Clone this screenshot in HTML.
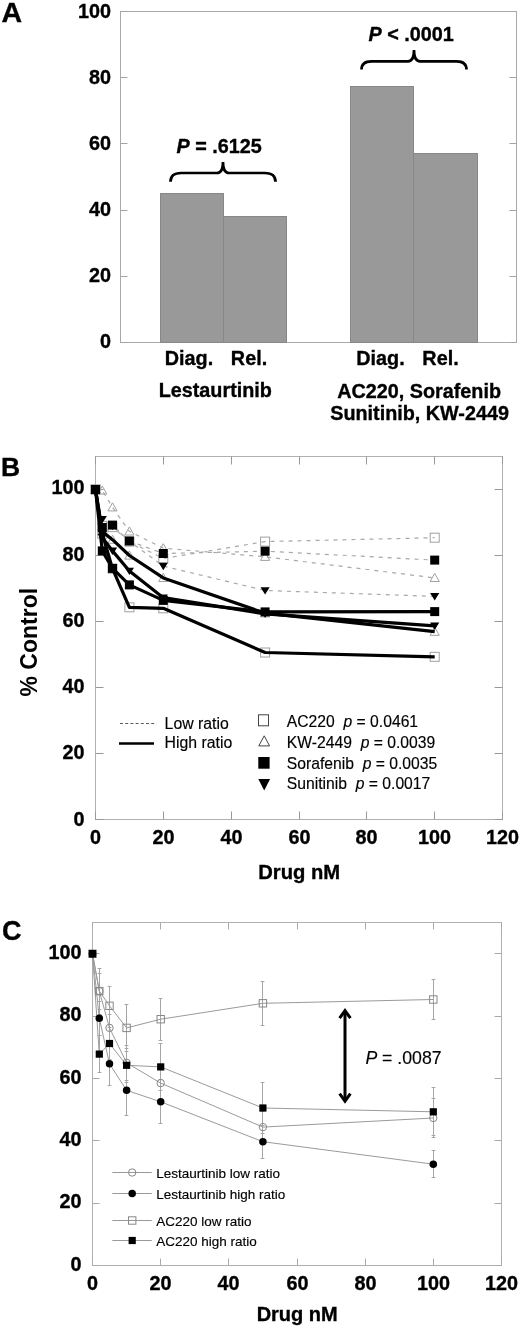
<!DOCTYPE html>
<html><head><meta charset="utf-8"><style>
html,body{margin:0;padding:0;background:#fff;}
svg{display:block;font-family:"Liberation Sans", sans-serif;will-change:transform;}
</style></head><body>
<svg width="520" height="1328" viewBox="0 0 520 1328">
<rect width="520" height="1328" fill="#fff"/>
<rect x="120.5" y="11.5" width="396.0" height="331.0" fill="none" stroke="#aaaaaa" stroke-width="1"/>
<line x1="120.5" y1="342.5" x2="127.5" y2="342.5" stroke="#a4a4a4"/>
<line x1="516.5" y1="342.5" x2="509.5" y2="342.5" stroke="#a4a4a4"/>
<text x="110.9" y="347.90" font-size="19.8" text-anchor="end" font-weight="bold" fill="#000" stroke="#000" stroke-width="0.35" >0</text>
<line x1="120.5" y1="276.5" x2="127.5" y2="276.5" stroke="#a4a4a4"/>
<line x1="516.5" y1="276.5" x2="509.5" y2="276.5" stroke="#a4a4a4"/>
<text x="110.9" y="281.82" font-size="19.8" text-anchor="end" font-weight="bold" fill="#000" stroke="#000" stroke-width="0.35" >20</text>
<line x1="120.5" y1="210.5" x2="127.5" y2="210.5" stroke="#a4a4a4"/>
<line x1="516.5" y1="210.5" x2="509.5" y2="210.5" stroke="#a4a4a4"/>
<text x="110.9" y="215.74" font-size="19.8" text-anchor="end" font-weight="bold" fill="#000" stroke="#000" stroke-width="0.35" >40</text>
<line x1="120.5" y1="143.5" x2="127.5" y2="143.5" stroke="#a4a4a4"/>
<line x1="516.5" y1="143.5" x2="509.5" y2="143.5" stroke="#a4a4a4"/>
<text x="110.9" y="149.66" font-size="19.8" text-anchor="end" font-weight="bold" fill="#000" stroke="#000" stroke-width="0.35" >60</text>
<line x1="120.5" y1="77.5" x2="127.5" y2="77.5" stroke="#a4a4a4"/>
<line x1="516.5" y1="77.5" x2="509.5" y2="77.5" stroke="#a4a4a4"/>
<text x="110.9" y="83.58" font-size="19.8" text-anchor="end" font-weight="bold" fill="#000" stroke="#000" stroke-width="0.35" >80</text>
<line x1="120.5" y1="11.5" x2="127.5" y2="11.5" stroke="#a4a4a4"/>
<line x1="516.5" y1="11.5" x2="509.5" y2="11.5" stroke="#a4a4a4"/>
<text x="110.9" y="17.50" font-size="19.8" text-anchor="end" font-weight="bold" fill="#000" stroke="#000" stroke-width="0.35" >100</text>
<rect x="160.5" y="193.5" width="63.0" height="149.0" fill="#999999" stroke="#888888" stroke-width="1"/>
<rect x="223.5" y="216.5" width="63.0" height="126.0" fill="#999999" stroke="#888888" stroke-width="1"/>
<rect x="350.5" y="86.5" width="63.0" height="256.0" fill="#999999" stroke="#888888" stroke-width="1"/>
<rect x="413.5" y="153.5" width="64.0" height="189.0" fill="#999999" stroke="#888888" stroke-width="1"/>
<text x="189" y="364.50" font-size="19.8" text-anchor="middle" font-weight="bold" fill="#000" stroke="#000" stroke-width="0.35" >Diag.</text>
<text x="249" y="364.50" font-size="19.8" text-anchor="middle" font-weight="bold" fill="#000" stroke="#000" stroke-width="0.35" >Rel.</text>
<text x="380.5" y="364.50" font-size="19.8" text-anchor="middle" font-weight="bold" fill="#000" stroke="#000" stroke-width="0.35" >Diag.</text>
<text x="440.5" y="364.50" font-size="19.8" text-anchor="middle" font-weight="bold" fill="#000" stroke="#000" stroke-width="0.35" >Rel.</text>
<text x="215.3" y="397.30" font-size="19.8" text-anchor="middle" font-weight="bold" fill="#000" stroke="#000" stroke-width="0.35" >Lestaurtinib</text>
<text x="419.1" y="397.70" font-size="19.8" text-anchor="middle" font-weight="bold" fill="#000" stroke="#000" stroke-width="0.35" >AC220, Sorafenib</text>
<text x="419.6" y="420.00" font-size="19.8" text-anchor="middle" font-weight="bold" fill="#000" stroke="#000" stroke-width="0.35" >Sunitinib, KW-2449</text>
<text x="219.1" y="153.00" font-size="19.8" text-anchor="middle" font-weight="bold" fill="#000" stroke="#000" stroke-width="0.35" ><tspan font-style="italic">P</tspan> = .6125</text>
<text x="411.1" y="41.20" font-size="19.8" text-anchor="middle" font-weight="bold" fill="#000" stroke="#000" stroke-width="0.35" ><tspan font-style="italic">P</tspan> &lt; .0001</text>
<path d="M170.5,181.8 Q170.5,173 181.06,173 L217.0,173 Q223.0,173 223.0,162.0 Q223.0,173 229.0,173 L264.94,173 Q275.5,173 275.5,181.8" fill="none" stroke="#000" stroke-width="2.7"/>
<path d="M361.5,69.6 Q361.5,61.3 371.46,61.3 L408.0,61.3 Q414.0,61.3 414.0,50.0 Q414.0,61.3 420.0,61.3 L456.54,61.3 Q466.5,61.3 466.5,69.6" fill="none" stroke="#000" stroke-width="2.7"/>
<text x="1.4" y="22.10" font-size="28.5" text-anchor="start" font-weight="bold" fill="#000" stroke="#000" stroke-width="0.35" >A</text>
<rect x="95.5" y="456.5" width="407.0" height="363.0" fill="none" stroke="#b0b0b0" stroke-width="1"/>
<line x1="95.5" y1="819.5" x2="103.5" y2="819.5" stroke="#999999"/>
<line x1="502.5" y1="819.5" x2="494.5" y2="819.5" stroke="#999999"/>
<text x="84.5" y="825.50" font-size="19.8" text-anchor="end" font-weight="bold" fill="#000" stroke="#000" stroke-width="0.35" >0</text>
<line x1="95.5" y1="753.5" x2="103.5" y2="753.5" stroke="#999999"/>
<line x1="502.5" y1="753.5" x2="494.5" y2="753.5" stroke="#999999"/>
<text x="84.5" y="759.26" font-size="19.8" text-anchor="end" font-weight="bold" fill="#000" stroke="#000" stroke-width="0.35" >20</text>
<line x1="95.5" y1="687.5" x2="103.5" y2="687.5" stroke="#999999"/>
<line x1="502.5" y1="687.5" x2="494.5" y2="687.5" stroke="#999999"/>
<text x="84.5" y="693.02" font-size="19.8" text-anchor="end" font-weight="bold" fill="#000" stroke="#000" stroke-width="0.35" >40</text>
<line x1="95.5" y1="621.5" x2="103.5" y2="621.5" stroke="#999999"/>
<line x1="502.5" y1="621.5" x2="494.5" y2="621.5" stroke="#999999"/>
<text x="84.5" y="626.78" font-size="19.8" text-anchor="end" font-weight="bold" fill="#000" stroke="#000" stroke-width="0.35" >60</text>
<line x1="95.5" y1="555.5" x2="103.5" y2="555.5" stroke="#999999"/>
<line x1="502.5" y1="555.5" x2="494.5" y2="555.5" stroke="#999999"/>
<text x="84.5" y="560.54" font-size="19.8" text-anchor="end" font-weight="bold" fill="#000" stroke="#000" stroke-width="0.35" >80</text>
<line x1="95.5" y1="489.5" x2="103.5" y2="489.5" stroke="#999999"/>
<line x1="502.5" y1="489.5" x2="494.5" y2="489.5" stroke="#999999"/>
<text x="84.5" y="494.30" font-size="19.8" text-anchor="end" font-weight="bold" fill="#000" stroke="#000" stroke-width="0.35" >100</text>
<line x1="95.5" y1="819.5" x2="95.5" y2="811.5" stroke="#999999"/>
<line x1="95.5" y1="456.5" x2="95.5" y2="464.5" stroke="#999999"/>
<text x="95.5" y="843.70" font-size="19.8" text-anchor="middle" font-weight="bold" fill="#000" stroke="#000" stroke-width="0.35" >0</text>
<line x1="163.5" y1="819.5" x2="163.5" y2="811.5" stroke="#999999"/>
<line x1="163.5" y1="456.5" x2="163.5" y2="464.5" stroke="#999999"/>
<text x="163.5" y="843.70" font-size="19.8" text-anchor="middle" font-weight="bold" fill="#000" stroke="#000" stroke-width="0.35" >20</text>
<line x1="231.5" y1="819.5" x2="231.5" y2="811.5" stroke="#999999"/>
<line x1="231.5" y1="456.5" x2="231.5" y2="464.5" stroke="#999999"/>
<text x="231.5" y="843.70" font-size="19.8" text-anchor="middle" font-weight="bold" fill="#000" stroke="#000" stroke-width="0.35" >40</text>
<line x1="299.5" y1="819.5" x2="299.5" y2="811.5" stroke="#999999"/>
<line x1="299.5" y1="456.5" x2="299.5" y2="464.5" stroke="#999999"/>
<text x="299.5" y="843.70" font-size="19.8" text-anchor="middle" font-weight="bold" fill="#000" stroke="#000" stroke-width="0.35" >60</text>
<line x1="366.5" y1="819.5" x2="366.5" y2="811.5" stroke="#999999"/>
<line x1="366.5" y1="456.5" x2="366.5" y2="464.5" stroke="#999999"/>
<text x="366.5" y="843.70" font-size="19.8" text-anchor="middle" font-weight="bold" fill="#000" stroke="#000" stroke-width="0.35" >80</text>
<line x1="434.5" y1="819.5" x2="434.5" y2="811.5" stroke="#999999"/>
<line x1="434.5" y1="456.5" x2="434.5" y2="464.5" stroke="#999999"/>
<text x="434.5" y="843.70" font-size="19.8" text-anchor="middle" font-weight="bold" fill="#000" stroke="#000" stroke-width="0.35" >100</text>
<line x1="502.5" y1="819.5" x2="502.5" y2="811.5" stroke="#999999"/>
<line x1="502.5" y1="456.5" x2="502.5" y2="464.5" stroke="#999999"/>
<text x="502.5" y="843.70" font-size="19.8" text-anchor="middle" font-weight="bold" fill="#000" stroke="#000" stroke-width="0.35" >120</text>
<text x="299.2" y="879.00" font-size="20.2" text-anchor="middle" font-weight="bold" fill="#000" stroke="#000" stroke-width="0.35" >Drug nM</text>
<text transform="translate(36.6,642.2) rotate(-90)" font-size="23" text-anchor="middle" font-weight="bold">% Control</text>
<text x="0.9" y="476.00" font-size="26.5" text-anchor="start" font-weight="bold" fill="#000" stroke="#000" stroke-width="0.35" >B</text>
<polyline points="95.5,489.5 102.3,525.8 112.5,527.1 129.4,541.6 163.3,558.5 265.1,541.6 434.7,537.7" fill="none" stroke="#a8a8a8" stroke-width="1.2" stroke-dasharray="4,5"/>
<polyline points="95.5,489.5 102.3,490.5 112.5,507.3 129.4,531.4 163.3,548.2 265.1,556.8 434.7,577.9" fill="none" stroke="#a8a8a8" stroke-width="1.2" stroke-dasharray="4,5"/>
<polyline points="95.5,489.5 102.3,527.5 112.5,525.1 129.4,541.0 163.3,553.5 265.1,551.2 434.7,560.1" fill="none" stroke="#a8a8a8" stroke-width="1.2" stroke-dasharray="4,5"/>
<polyline points="95.5,489.5 102.3,519.2 112.5,525.8 129.4,541.3 163.3,566.1 265.1,590.5 434.7,596.4" fill="none" stroke="#a8a8a8" stroke-width="1.2" stroke-dasharray="4,5"/>
<rect x="91.0" y="485.0" width="9" height="9" fill="none" stroke="#a0a0a0" stroke-width="1"/>
<rect x="97.8" y="521.3" width="9" height="9" fill="none" stroke="#a0a0a0" stroke-width="1"/>
<rect x="108.0" y="522.6" width="9" height="9" fill="none" stroke="#a0a0a0" stroke-width="1"/>
<rect x="124.9" y="537.1" width="9" height="9" fill="none" stroke="#a0a0a0" stroke-width="1"/>
<rect x="158.8" y="554.0" width="9" height="9" fill="none" stroke="#a0a0a0" stroke-width="1"/>
<rect x="260.6" y="537.1" width="9" height="9" fill="none" stroke="#a0a0a0" stroke-width="1"/>
<rect x="430.2" y="533.2" width="9" height="9" fill="none" stroke="#a0a0a0" stroke-width="1"/>
<rect x="91.0" y="485.0" width="9" height="9" fill="none" stroke="#a0a0a0" stroke-width="1"/>
<rect x="97.8" y="529.2" width="9" height="9" fill="none" stroke="#a0a0a0" stroke-width="1"/>
<rect x="108.0" y="564.2" width="9" height="9" fill="none" stroke="#a0a0a0" stroke-width="1"/>
<rect x="124.9" y="602.8" width="9" height="9" fill="none" stroke="#a0a0a0" stroke-width="1"/>
<rect x="158.8" y="603.8" width="9" height="9" fill="none" stroke="#a0a0a0" stroke-width="1"/>
<rect x="260.6" y="648.0" width="9" height="9" fill="none" stroke="#a0a0a0" stroke-width="1"/>
<rect x="430.2" y="652.3" width="9" height="9" fill="none" stroke="#a0a0a0" stroke-width="1"/>
<path d="M95.5,485.0 L100.1,493.1 L90.9,493.1 Z" fill="none" stroke="#a0a0a0" stroke-width="1"/>
<path d="M102.3,486.0 L106.9,494.1 L97.7,494.1 Z" fill="none" stroke="#a0a0a0" stroke-width="1"/>
<path d="M112.5,502.8 L117.1,510.9 L107.9,510.9 Z" fill="none" stroke="#a0a0a0" stroke-width="1"/>
<path d="M129.4,526.9 L134.0,535.0 L124.8,535.0 Z" fill="none" stroke="#a0a0a0" stroke-width="1"/>
<path d="M163.3,543.7 L167.9,551.8 L158.7,551.8 Z" fill="none" stroke="#a0a0a0" stroke-width="1"/>
<path d="M265.1,552.3 L269.7,560.4 L260.5,560.4 Z" fill="none" stroke="#a0a0a0" stroke-width="1"/>
<path d="M434.7,573.4 L439.3,581.5 L430.1,581.5 Z" fill="none" stroke="#a0a0a0" stroke-width="1"/>
<path d="M95.5,485.0 L100.1,493.1 L90.9,493.1 Z" fill="none" stroke="#a0a0a0" stroke-width="1"/>
<path d="M102.3,526.9 L106.9,535.0 L97.7,535.0 Z" fill="none" stroke="#a0a0a0" stroke-width="1"/>
<path d="M112.5,535.2 L117.1,543.3 L107.9,543.3 Z" fill="none" stroke="#a0a0a0" stroke-width="1"/>
<path d="M129.4,551.0 L134.0,559.1 L124.8,559.1 Z" fill="none" stroke="#a0a0a0" stroke-width="1"/>
<path d="M163.3,573.4 L167.9,581.5 L158.7,581.5 Z" fill="none" stroke="#a0a0a0" stroke-width="1"/>
<path d="M265.1,608.8 L269.7,616.9 L260.5,616.9 Z" fill="none" stroke="#a0a0a0" stroke-width="1"/>
<path d="M434.7,627.2 L439.3,635.3 L430.1,635.3 Z" fill="none" stroke="#a0a0a0" stroke-width="1"/>
<path d="M90.9,486.2 L100.1,486.2 L95.5,493.6 Z" fill="#000"/>
<path d="M97.7,515.9 L106.9,515.9 L102.3,523.3 Z" fill="#000"/>
<path d="M107.9,522.5 L117.1,522.5 L112.5,529.9 Z" fill="#000"/>
<path d="M124.8,538.0 L134.0,538.0 L129.4,545.4 Z" fill="#000"/>
<path d="M158.7,562.8 L167.9,562.8 L163.3,570.2 Z" fill="#000"/>
<path d="M260.5,587.2 L269.7,587.2 L265.1,594.6 Z" fill="#000"/>
<path d="M430.1,593.1 L439.3,593.1 L434.7,600.5 Z" fill="#000"/>
<rect x="91.0" y="485.0" width="9" height="9" fill="#000"/>
<rect x="97.8" y="523.0" width="9" height="9" fill="#000"/>
<rect x="108.0" y="520.6" width="9" height="9" fill="#000"/>
<rect x="124.9" y="536.5" width="9" height="9" fill="#000"/>
<rect x="158.8" y="549.0" width="9" height="9" fill="#000"/>
<rect x="260.6" y="546.7" width="9" height="9" fill="#000"/>
<rect x="430.2" y="555.6" width="9" height="9" fill="#000"/>
<polyline points="95.5,489.5 102.3,533.7 112.5,568.7 129.4,607.3 163.3,608.3 265.1,652.5 434.7,656.8" fill="none" stroke="#000" stroke-width="3.2" stroke-linejoin="round"/>
<polyline points="95.5,489.5 102.3,531.4 112.5,539.7 129.4,555.5 163.3,577.9 265.1,613.2 434.7,631.7" fill="none" stroke="#000" stroke-width="3.2" stroke-linejoin="round"/>
<polyline points="95.5,489.5 102.3,550.9 112.5,568.4 129.4,584.9 163.3,600.4 265.1,611.9 434.7,611.6" fill="none" stroke="#000" stroke-width="3.2" stroke-linejoin="round"/>
<polyline points="95.5,489.5 102.3,537.4 112.5,550.9 129.4,571.0 163.3,597.7 265.1,613.9 434.7,625.8" fill="none" stroke="#000" stroke-width="3.2" stroke-linejoin="round"/>
<rect x="91.0" y="485.0" width="9" height="9" fill="#000"/>
<rect x="97.8" y="546.4" width="9" height="9" fill="#000"/>
<rect x="108.0" y="563.9" width="9" height="9" fill="#000"/>
<rect x="124.9" y="580.4" width="9" height="9" fill="#000"/>
<rect x="158.8" y="595.9" width="9" height="9" fill="#000"/>
<rect x="260.6" y="607.4" width="9" height="9" fill="#000"/>
<rect x="430.2" y="607.1" width="9" height="9" fill="#000"/>
<path d="M90.9,486.2 L100.1,486.2 L95.5,493.6 Z" fill="#000"/>
<path d="M97.7,534.1 L106.9,534.1 L102.3,541.5 Z" fill="#000"/>
<path d="M107.9,547.6 L117.1,547.6 L112.5,555.0 Z" fill="#000"/>
<path d="M124.8,567.7 L134.0,567.7 L129.4,575.1 Z" fill="#000"/>
<path d="M158.7,594.4 L167.9,594.4 L163.3,601.8 Z" fill="#000"/>
<path d="M260.5,610.6 L269.7,610.6 L265.1,618.0 Z" fill="#000"/>
<path d="M430.1,622.5 L439.3,622.5 L434.7,629.9 Z" fill="#000"/>
<rect x="91.0" y="485.0" width="9" height="9" fill="#000"/>
<line x1="120" y1="723.5" x2="156.5" y2="723.5" stroke="#5a5a5a" stroke-width="1" stroke-dasharray="3,2.2"/>
<line x1="119" y1="743.5" x2="154" y2="743.5" stroke="#000" stroke-width="2.5"/>
<text x="164.6" y="728.50" font-size="15.8" text-anchor="start" font-weight="normal" fill="#000" stroke="#000" stroke-width="0.15" >Low ratio</text>
<text x="164.6" y="748.20" font-size="15.8" text-anchor="start" font-weight="normal" fill="#000" stroke="#000" stroke-width="0.15" >High ratio</text>
<rect x="258.5" y="714.8" width="10" height="11" fill="#fff" stroke="#444" stroke-width="1"/>
<text x="286.8" y="727.30" font-size="15.7" text-anchor="start" font-weight="normal" fill="#000" stroke="#000" stroke-width="0.15" >AC220&#160;&#160;<tspan font-style="italic">p</tspan> = 0.0461</text>
<path d="M264.2,735.8 L269.6,745.9 L258.8,745.9 Z" fill="#fff" stroke="#444" stroke-width="1"/>
<text x="286.8" y="747.80" font-size="15.7" text-anchor="start" font-weight="normal" fill="#000" stroke="#000" stroke-width="0.15" >KW-2449&#160;&#160;<tspan font-style="italic">p</tspan> = 0.0039</text>
<rect x="258.3" y="757.0" width="11.3" height="11.7" fill="#000"/>
<text x="286.8" y="768.60" font-size="15.7" text-anchor="start" font-weight="normal" fill="#000" stroke="#000" stroke-width="0.15" >Sorafenib&#160;&#160;<tspan font-style="italic">p</tspan> = 0.0035</text>
<path d="M258.3,779.0 L270.1,779.0 L264.2,790.6 Z" fill="#000"/>
<text x="286.8" y="789.10" font-size="15.7" text-anchor="start" font-weight="normal" fill="#000" stroke="#000" stroke-width="0.15" >Sunitinib&#160;&#160;<tspan font-style="italic">p</tspan> = 0.0017</text>
<rect x="92.5" y="922.5" width="409.0" height="343.0" fill="none" stroke="#b0b0b0" stroke-width="1"/>
<line x1="92.5" y1="1265.5" x2="99.5" y2="1265.5" stroke="#aaaaaa"/>
<line x1="501.5" y1="1265.5" x2="494.5" y2="1265.5" stroke="#aaaaaa"/>
<text x="81.4" y="1270.80" font-size="19.8" text-anchor="end" font-weight="bold" fill="#000" stroke="#000" stroke-width="0.35" >0</text>
<line x1="92.5" y1="1203.5" x2="99.5" y2="1203.5" stroke="#aaaaaa"/>
<line x1="501.5" y1="1203.5" x2="494.5" y2="1203.5" stroke="#aaaaaa"/>
<text x="81.4" y="1208.44" font-size="19.8" text-anchor="end" font-weight="bold" fill="#000" stroke="#000" stroke-width="0.35" >20</text>
<line x1="92.5" y1="1140.5" x2="99.5" y2="1140.5" stroke="#aaaaaa"/>
<line x1="501.5" y1="1140.5" x2="494.5" y2="1140.5" stroke="#aaaaaa"/>
<text x="81.4" y="1146.08" font-size="19.8" text-anchor="end" font-weight="bold" fill="#000" stroke="#000" stroke-width="0.35" >40</text>
<line x1="92.5" y1="1078.5" x2="99.5" y2="1078.5" stroke="#aaaaaa"/>
<line x1="501.5" y1="1078.5" x2="494.5" y2="1078.5" stroke="#aaaaaa"/>
<text x="81.4" y="1083.72" font-size="19.8" text-anchor="end" font-weight="bold" fill="#000" stroke="#000" stroke-width="0.35" >60</text>
<line x1="92.5" y1="1016.5" x2="99.5" y2="1016.5" stroke="#aaaaaa"/>
<line x1="501.5" y1="1016.5" x2="494.5" y2="1016.5" stroke="#aaaaaa"/>
<text x="81.4" y="1021.36" font-size="19.8" text-anchor="end" font-weight="bold" fill="#000" stroke="#000" stroke-width="0.35" >80</text>
<line x1="92.5" y1="953.5" x2="99.5" y2="953.5" stroke="#aaaaaa"/>
<line x1="501.5" y1="953.5" x2="494.5" y2="953.5" stroke="#aaaaaa"/>
<text x="81.4" y="959.00" font-size="19.8" text-anchor="end" font-weight="bold" fill="#000" stroke="#000" stroke-width="0.35" >100</text>
<line x1="92.5" y1="1265.5" x2="92.5" y2="1258.5" stroke="#aaaaaa"/>
<line x1="92.5" y1="922.5" x2="92.5" y2="929.5" stroke="#aaaaaa"/>
<text x="92.5" y="1290.00" font-size="19.8" text-anchor="middle" font-weight="bold" fill="#000" stroke="#000" stroke-width="0.35" >0</text>
<line x1="160.5" y1="1265.5" x2="160.5" y2="1258.5" stroke="#aaaaaa"/>
<line x1="160.5" y1="922.5" x2="160.5" y2="929.5" stroke="#aaaaaa"/>
<text x="160.5" y="1290.00" font-size="19.8" text-anchor="middle" font-weight="bold" fill="#000" stroke="#000" stroke-width="0.35" >20</text>
<line x1="228.5" y1="1265.5" x2="228.5" y2="1258.5" stroke="#aaaaaa"/>
<line x1="228.5" y1="922.5" x2="228.5" y2="929.5" stroke="#aaaaaa"/>
<text x="228.5" y="1290.00" font-size="19.8" text-anchor="middle" font-weight="bold" fill="#000" stroke="#000" stroke-width="0.35" >40</text>
<line x1="297.5" y1="1265.5" x2="297.5" y2="1258.5" stroke="#aaaaaa"/>
<line x1="297.5" y1="922.5" x2="297.5" y2="929.5" stroke="#aaaaaa"/>
<text x="297.5" y="1290.00" font-size="19.8" text-anchor="middle" font-weight="bold" fill="#000" stroke="#000" stroke-width="0.35" >60</text>
<line x1="365.5" y1="1265.5" x2="365.5" y2="1258.5" stroke="#aaaaaa"/>
<line x1="365.5" y1="922.5" x2="365.5" y2="929.5" stroke="#aaaaaa"/>
<text x="365.5" y="1290.00" font-size="19.8" text-anchor="middle" font-weight="bold" fill="#000" stroke="#000" stroke-width="0.35" >80</text>
<line x1="433.5" y1="1265.5" x2="433.5" y2="1258.5" stroke="#aaaaaa"/>
<line x1="433.5" y1="922.5" x2="433.5" y2="929.5" stroke="#aaaaaa"/>
<text x="433.5" y="1290.00" font-size="19.8" text-anchor="middle" font-weight="bold" fill="#000" stroke="#000" stroke-width="0.35" >100</text>
<line x1="501.5" y1="1265.5" x2="501.5" y2="1258.5" stroke="#aaaaaa"/>
<line x1="501.5" y1="922.5" x2="501.5" y2="929.5" stroke="#aaaaaa"/>
<text x="501.5" y="1290.00" font-size="19.8" text-anchor="middle" font-weight="bold" fill="#000" stroke="#000" stroke-width="0.35" >120</text>
<text x="297.2" y="1321.10" font-size="20.0" text-anchor="middle" font-weight="bold" fill="#000" stroke="#000" stroke-width="0.35" >Drug nM</text>
<text x="2.1" y="939.90" font-size="27" text-anchor="start" font-weight="bold" fill="#000" stroke="#000" stroke-width="0.35" >C</text>
<line x1="99.5" y1="973.0" x2="99.5" y2="1009.2" stroke="#a6a6a6" stroke-width="1"/>
<line x1="97.6" y1="973.5" x2="101.4" y2="973.5" stroke="#a6a6a6" stroke-width="1"/>
<line x1="97.6" y1="1009.5" x2="101.4" y2="1009.5" stroke="#a6a6a6" stroke-width="1"/>
<line x1="109.5" y1="1014.5" x2="109.5" y2="1041.3" stroke="#a6a6a6" stroke-width="1"/>
<line x1="107.6" y1="1014.5" x2="111.4" y2="1014.5" stroke="#a6a6a6" stroke-width="1"/>
<line x1="107.6" y1="1041.5" x2="111.4" y2="1041.5" stroke="#a6a6a6" stroke-width="1"/>
<line x1="126.5" y1="1045.4" x2="126.5" y2="1080.3" stroke="#a6a6a6" stroke-width="1"/>
<line x1="124.6" y1="1045.5" x2="128.4" y2="1045.5" stroke="#a6a6a6" stroke-width="1"/>
<line x1="124.6" y1="1080.5" x2="128.4" y2="1080.5" stroke="#a6a6a6" stroke-width="1"/>
<line x1="160.5" y1="1064.4" x2="160.5" y2="1101.8" stroke="#a6a6a6" stroke-width="1"/>
<line x1="158.6" y1="1064.5" x2="162.4" y2="1064.5" stroke="#a6a6a6" stroke-width="1"/>
<line x1="158.6" y1="1101.5" x2="162.4" y2="1101.5" stroke="#a6a6a6" stroke-width="1"/>
<line x1="262.5" y1="1111.5" x2="262.5" y2="1142.6" stroke="#a6a6a6" stroke-width="1"/>
<line x1="260.6" y1="1111.5" x2="264.4" y2="1111.5" stroke="#a6a6a6" stroke-width="1"/>
<line x1="260.6" y1="1142.5" x2="264.4" y2="1142.5" stroke="#a6a6a6" stroke-width="1"/>
<line x1="433.5" y1="1099.0" x2="433.5" y2="1137.0" stroke="#a6a6a6" stroke-width="1"/>
<line x1="431.6" y1="1098.5" x2="435.4" y2="1098.5" stroke="#a6a6a6" stroke-width="1"/>
<line x1="431.6" y1="1137.5" x2="435.4" y2="1137.5" stroke="#a6a6a6" stroke-width="1"/>
<line x1="99.5" y1="1001.1" x2="99.5" y2="1035.4" stroke="#a6a6a6" stroke-width="1"/>
<line x1="97.6" y1="1001.5" x2="101.4" y2="1001.5" stroke="#a6a6a6" stroke-width="1"/>
<line x1="97.6" y1="1035.5" x2="101.4" y2="1035.5" stroke="#a6a6a6" stroke-width="1"/>
<line x1="109.5" y1="1041.6" x2="109.5" y2="1085.9" stroke="#a6a6a6" stroke-width="1"/>
<line x1="107.6" y1="1041.5" x2="111.4" y2="1041.5" stroke="#a6a6a6" stroke-width="1"/>
<line x1="107.6" y1="1085.5" x2="111.4" y2="1085.5" stroke="#a6a6a6" stroke-width="1"/>
<line x1="126.5" y1="1065.0" x2="126.5" y2="1115.5" stroke="#a6a6a6" stroke-width="1"/>
<line x1="124.6" y1="1065.5" x2="128.4" y2="1065.5" stroke="#a6a6a6" stroke-width="1"/>
<line x1="124.6" y1="1115.5" x2="128.4" y2="1115.5" stroke="#a6a6a6" stroke-width="1"/>
<line x1="160.5" y1="1080.0" x2="160.5" y2="1123.6" stroke="#a6a6a6" stroke-width="1"/>
<line x1="158.6" y1="1079.5" x2="162.4" y2="1079.5" stroke="#a6a6a6" stroke-width="1"/>
<line x1="158.6" y1="1123.5" x2="162.4" y2="1123.5" stroke="#a6a6a6" stroke-width="1"/>
<line x1="262.5" y1="1125.2" x2="262.5" y2="1158.2" stroke="#a6a6a6" stroke-width="1"/>
<line x1="260.6" y1="1125.5" x2="264.4" y2="1125.5" stroke="#a6a6a6" stroke-width="1"/>
<line x1="260.6" y1="1158.5" x2="264.4" y2="1158.5" stroke="#a6a6a6" stroke-width="1"/>
<line x1="433.5" y1="1150.4" x2="433.5" y2="1177.9" stroke="#a6a6a6" stroke-width="1"/>
<line x1="431.6" y1="1150.5" x2="435.4" y2="1150.5" stroke="#a6a6a6" stroke-width="1"/>
<line x1="431.6" y1="1177.5" x2="435.4" y2="1177.5" stroke="#a6a6a6" stroke-width="1"/>
<line x1="99.5" y1="968.0" x2="99.5" y2="1014.2" stroke="#a6a6a6" stroke-width="1"/>
<line x1="97.6" y1="968.5" x2="101.4" y2="968.5" stroke="#a6a6a6" stroke-width="1"/>
<line x1="97.6" y1="1014.5" x2="101.4" y2="1014.5" stroke="#a6a6a6" stroke-width="1"/>
<line x1="109.5" y1="986.7" x2="109.5" y2="1024.8" stroke="#a6a6a6" stroke-width="1"/>
<line x1="107.6" y1="986.5" x2="111.4" y2="986.5" stroke="#a6a6a6" stroke-width="1"/>
<line x1="107.6" y1="1024.5" x2="111.4" y2="1024.5" stroke="#a6a6a6" stroke-width="1"/>
<line x1="126.5" y1="1004.2" x2="126.5" y2="1051.6" stroke="#a6a6a6" stroke-width="1"/>
<line x1="124.6" y1="1004.5" x2="128.4" y2="1004.5" stroke="#a6a6a6" stroke-width="1"/>
<line x1="124.6" y1="1051.5" x2="128.4" y2="1051.5" stroke="#a6a6a6" stroke-width="1"/>
<line x1="160.5" y1="998.3" x2="160.5" y2="1040.1" stroke="#a6a6a6" stroke-width="1"/>
<line x1="158.6" y1="998.5" x2="162.4" y2="998.5" stroke="#a6a6a6" stroke-width="1"/>
<line x1="158.6" y1="1040.5" x2="162.4" y2="1040.5" stroke="#a6a6a6" stroke-width="1"/>
<line x1="262.5" y1="981.4" x2="262.5" y2="1025.1" stroke="#a6a6a6" stroke-width="1"/>
<line x1="260.6" y1="981.5" x2="264.4" y2="981.5" stroke="#a6a6a6" stroke-width="1"/>
<line x1="260.6" y1="1025.5" x2="264.4" y2="1025.5" stroke="#a6a6a6" stroke-width="1"/>
<line x1="433.5" y1="979.9" x2="433.5" y2="1019.2" stroke="#a6a6a6" stroke-width="1"/>
<line x1="431.6" y1="979.5" x2="435.4" y2="979.5" stroke="#a6a6a6" stroke-width="1"/>
<line x1="431.6" y1="1019.5" x2="435.4" y2="1019.5" stroke="#a6a6a6" stroke-width="1"/>
<line x1="99.5" y1="1035.7" x2="99.5" y2="1072.5" stroke="#a6a6a6" stroke-width="1"/>
<line x1="97.6" y1="1035.5" x2="101.4" y2="1035.5" stroke="#a6a6a6" stroke-width="1"/>
<line x1="97.6" y1="1072.5" x2="101.4" y2="1072.5" stroke="#a6a6a6" stroke-width="1"/>
<line x1="109.5" y1="1027.9" x2="109.5" y2="1059.1" stroke="#a6a6a6" stroke-width="1"/>
<line x1="107.6" y1="1027.5" x2="111.4" y2="1027.5" stroke="#a6a6a6" stroke-width="1"/>
<line x1="107.6" y1="1059.5" x2="111.4" y2="1059.5" stroke="#a6a6a6" stroke-width="1"/>
<line x1="126.5" y1="1048.5" x2="126.5" y2="1082.2" stroke="#a6a6a6" stroke-width="1"/>
<line x1="124.6" y1="1048.5" x2="128.4" y2="1048.5" stroke="#a6a6a6" stroke-width="1"/>
<line x1="124.6" y1="1082.5" x2="128.4" y2="1082.5" stroke="#a6a6a6" stroke-width="1"/>
<line x1="160.5" y1="1043.5" x2="160.5" y2="1090.3" stroke="#a6a6a6" stroke-width="1"/>
<line x1="158.6" y1="1043.5" x2="162.4" y2="1043.5" stroke="#a6a6a6" stroke-width="1"/>
<line x1="158.6" y1="1090.5" x2="162.4" y2="1090.5" stroke="#a6a6a6" stroke-width="1"/>
<line x1="262.5" y1="1082.8" x2="262.5" y2="1133.3" stroke="#a6a6a6" stroke-width="1"/>
<line x1="260.6" y1="1082.5" x2="264.4" y2="1082.5" stroke="#a6a6a6" stroke-width="1"/>
<line x1="260.6" y1="1133.5" x2="264.4" y2="1133.5" stroke="#a6a6a6" stroke-width="1"/>
<line x1="433.5" y1="1087.8" x2="433.5" y2="1135.8" stroke="#a6a6a6" stroke-width="1"/>
<line x1="431.6" y1="1087.5" x2="435.4" y2="1087.5" stroke="#a6a6a6" stroke-width="1"/>
<line x1="431.6" y1="1135.5" x2="435.4" y2="1135.5" stroke="#a6a6a6" stroke-width="1"/>
<polyline points="92.5,953.7 99.3,991.1 109.5,1027.9 126.6,1062.8 160.7,1083.1 262.9,1127.1 433.3,1118.0" fill="none" stroke="#9a9a9a" stroke-width="1"/>
<polyline points="92.5,953.7 99.3,1018.2 109.5,1063.8 126.6,1090.3 160.7,1101.8 262.9,1141.7 433.3,1164.2" fill="none" stroke="#9a9a9a" stroke-width="1"/>
<polyline points="92.5,953.7 99.3,991.1 109.5,1005.8 126.6,1027.9 160.7,1019.2 262.9,1003.3 433.3,999.5" fill="none" stroke="#9a9a9a" stroke-width="1"/>
<polyline points="92.5,953.7 99.3,1054.1 109.5,1043.5 126.6,1065.3 160.7,1066.9 262.9,1108.0 433.3,1111.8" fill="none" stroke="#9a9a9a" stroke-width="1"/>
<circle cx="92.5" cy="953.7" r="3.7" fill="none" stroke="#888" stroke-width="1"/>
<circle cx="99.3" cy="991.1" r="3.7" fill="none" stroke="#888" stroke-width="1"/>
<circle cx="109.5" cy="1027.9" r="3.7" fill="none" stroke="#888" stroke-width="1"/>
<circle cx="126.6" cy="1062.8" r="3.7" fill="none" stroke="#888" stroke-width="1"/>
<circle cx="160.7" cy="1083.1" r="3.7" fill="none" stroke="#888" stroke-width="1"/>
<circle cx="262.9" cy="1127.1" r="3.7" fill="none" stroke="#888" stroke-width="1"/>
<circle cx="433.3" cy="1118.0" r="3.7" fill="none" stroke="#888" stroke-width="1"/>
<rect x="88.8" y="950.0" width="7.4" height="7.4" fill="none" stroke="#888" stroke-width="1"/>
<rect x="95.6" y="987.4" width="7.4" height="7.4" fill="none" stroke="#888" stroke-width="1"/>
<rect x="105.8" y="1002.1" width="7.4" height="7.4" fill="none" stroke="#888" stroke-width="1"/>
<rect x="122.9" y="1024.2" width="7.4" height="7.4" fill="none" stroke="#888" stroke-width="1"/>
<rect x="157.0" y="1015.5" width="7.4" height="7.4" fill="none" stroke="#888" stroke-width="1"/>
<rect x="259.2" y="999.6" width="7.4" height="7.4" fill="none" stroke="#888" stroke-width="1"/>
<rect x="429.6" y="995.8" width="7.4" height="7.4" fill="none" stroke="#888" stroke-width="1"/>
<circle cx="92.5" cy="953.7" r="3.75" fill="#000"/>
<circle cx="99.3" cy="1018.2" r="3.75" fill="#000"/>
<circle cx="109.5" cy="1063.8" r="3.75" fill="#000"/>
<circle cx="126.6" cy="1090.3" r="3.75" fill="#000"/>
<circle cx="160.7" cy="1101.8" r="3.75" fill="#000"/>
<circle cx="262.9" cy="1141.7" r="3.75" fill="#000"/>
<circle cx="433.3" cy="1164.2" r="3.75" fill="#000"/>
<rect x="88.9" y="950.1" width="7.2" height="7.2" fill="#000"/>
<rect x="95.7" y="1050.5" width="7.2" height="7.2" fill="#000"/>
<rect x="105.9" y="1039.9" width="7.2" height="7.2" fill="#000"/>
<rect x="123.0" y="1061.7" width="7.2" height="7.2" fill="#000"/>
<rect x="157.1" y="1063.3" width="7.2" height="7.2" fill="#000"/>
<rect x="259.3" y="1104.4" width="7.2" height="7.2" fill="#000"/>
<rect x="429.7" y="1108.2" width="7.2" height="7.2" fill="#000"/>
<rect x="88.9" y="950.1" width="7.2" height="7.2" fill="#000"/>
<line x1="345" y1="1012" x2="345" y2="1100" stroke="#000" stroke-width="3"/>
<path d="M339.6,1018.2 L345,1010.6 L350.4,1018.2" fill="none" stroke="#000" stroke-width="3"/>
<path d="M339.6,1093.6 L345,1101.2 L350.4,1093.6" fill="none" stroke="#000" stroke-width="3"/>
<text x="365.4" y="1064.10" font-size="17.7" text-anchor="start" font-weight="normal" fill="#000" stroke="#000" stroke-width="0.15" ><tspan font-style="italic">P</tspan> = .0087</text>
<line x1="112.3" y1="1172.5" x2="151.8" y2="1172.5" stroke="#999" stroke-width="1"/>
<circle cx="132.2" cy="1172.5" r="3.7" fill="none" stroke="#888" stroke-width="1"/>
<text x="156.2" y="1178.20" font-size="13.5" text-anchor="start" font-weight="normal" fill="#000" stroke="#000" stroke-width="0.15" >Lestaurtinib low ratio</text>
<line x1="112.3" y1="1193.5" x2="151.8" y2="1193.5" stroke="#999" stroke-width="1"/>
<circle cx="132.2" cy="1193.5" r="3.75" fill="#000"/>
<text x="156.2" y="1199.20" font-size="13.5" text-anchor="start" font-weight="normal" fill="#000" stroke="#000" stroke-width="0.15" >Lestaurtinib high ratio</text>
<line x1="112.3" y1="1220.5" x2="151.8" y2="1220.5" stroke="#999" stroke-width="1"/>
<rect x="128.5" y="1216.8" width="7.4" height="7.4" fill="none" stroke="#888" stroke-width="1"/>
<text x="156.2" y="1226.20" font-size="13.5" text-anchor="start" font-weight="normal" fill="#000" stroke="#000" stroke-width="0.15" >AC220 low ratio</text>
<line x1="112.3" y1="1240.5" x2="151.8" y2="1240.5" stroke="#999" stroke-width="1"/>
<rect x="128.6" y="1236.9" width="7.2" height="7.2" fill="#000"/>
<text x="156.2" y="1246.20" font-size="13.5" text-anchor="start" font-weight="normal" fill="#000" stroke="#000" stroke-width="0.15" >AC220 high ratio</text>
</svg>
</body></html>
